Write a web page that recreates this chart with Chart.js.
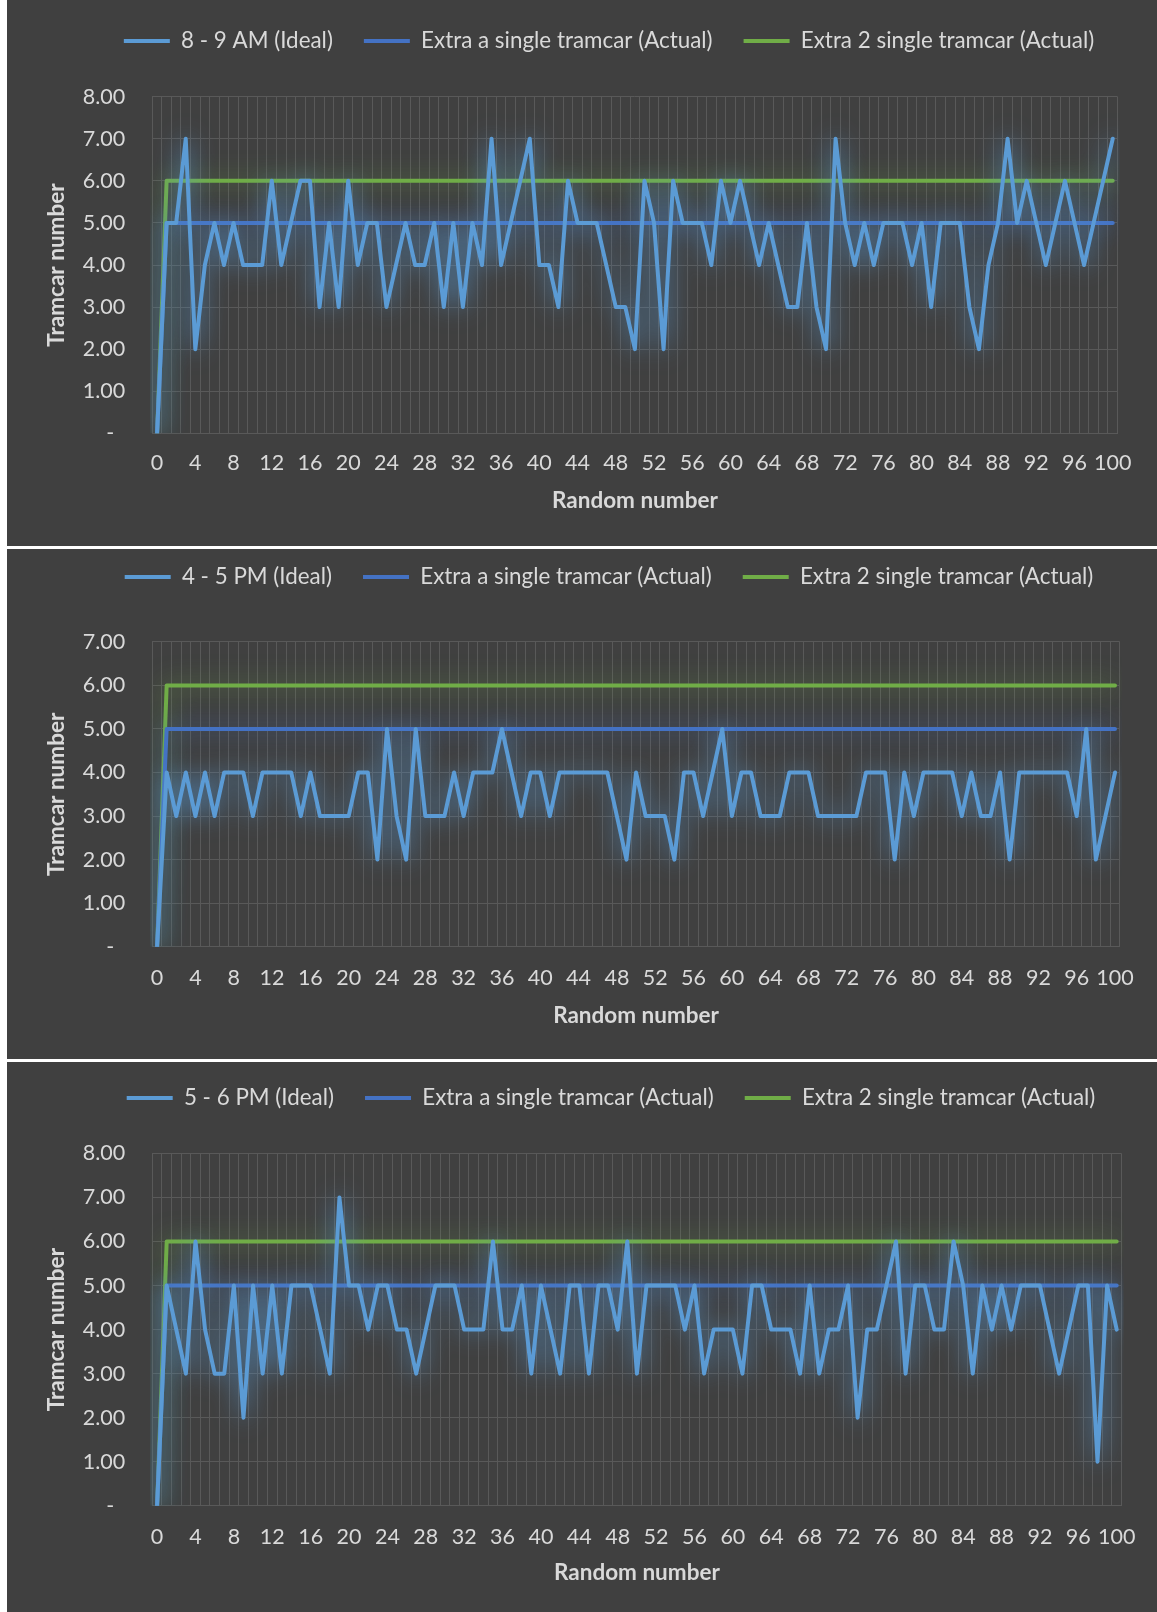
<!DOCTYPE html>
<html><head><meta charset="utf-8">
<script src="https://cdn.jsdelivr.net/npm/chart.js@4"></script>
<style>
html,body{margin:0;padding:0;background:#ffffff}
body{width:1157px;height:1612px;position:relative;overflow:hidden}
.panel{position:absolute;left:7px;width:1150px;background:#404040}
canvas{display:block}
</style></head><body>
<div class="panel" style="top:0px;height:546px"><canvas id="c1" width="1150" height="546"></canvas></div>
<div class="panel" style="top:549px;height:510px"><canvas id="c2" width="1150" height="510"></canvas></div>
<div class="panel" style="top:1062px;height:550px"><canvas id="c3" width="1150" height="550"></canvas></div>
<script>
// ---- categories (random number) ----
const randomNumbers = [0,1,2,3,4,5,6,7,8,9,10,11,12,13,14,15,16,17,18,19,20,21,22,23,24,25,26,27,28,29,30,31,32,33,34,35,36,37,38,39,40,41,42,43,44,45,46,47,48,49,50,51,52,53,54,55,56,57,58,59,60,61,62,63,64,65,66,67,68,69,70,71,72,73,74,75,76,77,78,79,80,81,82,83,84,85,86,87,88,89,90,91,92,93,94,95,96,97,98,99,100];
const xTickLabels = ['0','4','8','12','16','20','24','28','32','36','40','44','48','52','56','60','64','68','72','76','80','84','88','92','96','100'];
const yTickLabels8 = ['-','1.00','2.00','3.00','4.00','5.00','6.00','7.00','8.00'];
const yTickLabels7 = ['-','1.00','2.00','3.00','4.00','5.00','6.00','7.00'];

// ---- series names ----
const idealLabelAM = '8 - 9 AM (Ideal)';
const idealLabelPM4 = '4 - 5 PM (Ideal)';
const idealLabelPM5 = '5 - 6 PM (Ideal)';
const singleLabel = 'Extra a single tramcar (Actual)';
const doubleLabel = 'Extra 2 single tramcar (Actual)';

// ---- series values ----
const ideal_8_9AM = [0,5,5,7,2,4,5,4,5,4, 4,4,6,4,5,6,6,3,5,3, 6,4,5,5,3,4,5,4,4,5, 3,5,3,5,4,7,4,5,6,7, 4,4,3,6,5,5,5,4,3,3, 2,6,5,2,6,5,5,5,4,6, 5,6,5,4,5,4,3,3,5,3, 2,7,5,4,5,4,5,5,5,4, 5,3,5,5,5,3,2,4,5,7, 5,6,5,4,5,6,5,4,5,6,7];
const ideal_4_5PM = [0,4,3,4,3,4,3,4,4,4, 3,4,4,4,4,3,4,3,3,3, 3,4,4,2,5,3,2,5,3,3, 3,4,3,4,4,4,5,4,3,4, 4,3,4,4,4,4,4,4,3,2, 4,3,3,3,2,4,4,3,4,5, 3,4,4,3,3,3,4,4,4,3, 3,3,3,3,4,4,4,2,4,3, 4,4,4,4,3,4,3,3,4,2, 4,4,4,4,4,4,3,5,2,3,4];
const ideal_5_6PM = [0,5,4,3,6,4,3,3,5,2, 5,3,5,3,5,5,5,4,3,7, 5,5,4,5,5,4,4,3,4,5, 5,5,4,4,4,6,4,4,5,3, 5,4,3,5,5,3,5,5,4,6, 3,5,5,5,5,4,5,3,4,4, 4,3,5,5,4,4,4,3,5,3, 4,4,5,2,4,4,5,6,3,5, 5,4,4,6,5,3,5,4,5,4, 5,5,5,4,3,4,5,5,1,5,4];
const singleActual = [0,5,5,5,5,5,5,5,5,5, 5,5,5,5,5,5,5,5,5,5, 5,5,5,5,5,5,5,5,5,5, 5,5,5,5,5,5,5,5,5,5, 5,5,5,5,5,5,5,5,5,5, 5,5,5,5,5,5,5,5,5,5, 5,5,5,5,5,5,5,5,5,5, 5,5,5,5,5,5,5,5,5,5, 5,5,5,5,5,5,5,5,5,5, 5,5,5,5,5,5,5,5,5,5,5];
const doubleActual = [0,6,6,6,6,6,6,6,6,6, 6,6,6,6,6,6,6,6,6,6, 6,6,6,6,6,6,6,6,6,6, 6,6,6,6,6,6,6,6,6,6, 6,6,6,6,6,6,6,6,6,6, 6,6,6,6,6,6,6,6,6,6, 6,6,6,6,6,6,6,6,6,6, 6,6,6,6,6,6,6,6,6,6, 6,6,6,6,6,6,6,6,6,6, 6,6,6,6,6,6,6,6,6,6,6];

const FONT = 'Lato, "Open Sans", "Liberation Sans", sans-serif';
const TXT = '#d9d9d9';
const GRID = '#595959';
const LEGEND_FS = 22.4, TICK_FS = 21.5, TITLE_FS = 22.5;
Chart.defaults.font.family = FONT;
Chart.defaults.color = TXT;

const glowPlugin = {
  id: 'glow',
  beforeDatasetDraw(chart, args, opts) {
    const ctx = chart.ctx;
    ctx.save();
    ctx.shadowColor = opts.colors[args.index];
    ctx.shadowBlur = opts.blur;
  },
  afterDatasetDraw(chart) { chart.ctx.restore(); }
};

function makeChart(id, ideal, idealLabel, yTicks, g) {
  const yMax = yTicks.length - 1;
  return new Chart(document.getElementById(id), {
    type: 'line',
    plugins: [glowPlugin],
    data: {
      labels: randomNumbers,
      datasets: [
        {label: idealLabel, data: ideal, borderColor: '#5B9BD5', backgroundColor: '#5B9BD5'},
        {label: singleLabel, data: singleActual, borderColor: '#4472C4', backgroundColor: '#4472C4'},
        {label: doubleLabel, data: doubleActual, borderColor: '#70AD47', backgroundColor: '#70AD47'}
      ]
    },
    options: {
      responsive: false, animation: false, devicePixelRatio: 1,
      datasets: {line: {borderWidth: 4, pointRadius: 0, pointHoverRadius: 0, tension: 0, borderJoinStyle: 'round', borderCapStyle: 'round', fill: false}},
      layout: {padding: {top: g.padTop, left: 0, right: g.padRight, bottom: 0}},
      plugins: {
        legend: {
          position: 'top', weight: 3000,
          labels: {
            boxWidth: 46, boxHeight: 4, padding: 31, color: TXT, font: {size: LEGEND_FS},
            generateLabels(chart) {
              return Chart.defaults.plugins.legend.labels.generateLabels(chart).map(l => Object.assign(l, {lineWidth: 0}));
            }
          }
        },
        title: {display: true, text: ' ', weight: 2000, font: {size: 1, lineHeight: 1}, padding: {top: 0, bottom: g.spacer - 1}},
        tooltip: {enabled: false},
        glow: {blur: 24, colors: ['rgba(91,155,213,0.95)', 'rgba(68,114,196,0.8)', 'rgba(112,173,71,0.75)']}
      },
      scales: {
        x: {
          type: 'category', offset: true,
          grid: {offset: true, color: GRID, lineWidth: 1, drawTicks: false},
          border: {color: GRID},
          ticks: {
            autoSkip: false, maxRotation: 0, minRotation: 0, color: TXT, font: {size: TICK_FS}, padding: g.xTickPad,
            callback(val) { const l = String(this.getLabelForValue(val)); return xTickLabels.includes(l) ? l : ''; }
          },
          title: {display: true, text: 'Random number', color: TXT, font: {size: TITLE_FS, weight: 'bold'}, padding: {top: 0, bottom: g.xTitlePad}},
          afterFit(s) { s.height = g.xHeight; }
        },
        y: {
          min: 0, max: yMax,
          grid: {color: GRID, lineWidth: 1, drawTicks: false},
          border: {display: false},
          ticks: {
            stepSize: 1, color: TXT, font: {size: TICK_FS}, padding: 27,
            callback(v) { const l = yTicks[Math.round(v)]; return l === '-' ? '-  ' : l; }
          },
          title: {display: true, text: 'Tramcar number', color: TXT, font: {size: TITLE_FS, weight: 'bold'}, padding: {top: 36.5, bottom: 0}},
          afterFit(s) { s.width = 145.3; }
        },
        yRightSpace: {
          type: 'linear', position: 'right', display: true,
          grid: {display: false, drawTicks: false},
          border: {display: false},
          ticks: {display: false},
          afterFit(s) { s.width = g.rightW; }
        }
      }
    }
  });
}

makeChart('c1', ideal_8_9AM, idealLabelAM, yTickLabels8,
  {padTop: -1.1, padRight: -54, rightW: 93.5, spacer: 34.4, xHeight: 112.7, xTickPad: 16.8, xTitlePad: 31.5});
makeChart('c2', ideal_4_5PM, idealLabelPM4, yTickLabels7,
  {padTop: -14.2, padRight: -54, rightW: 91.2, spacer: 43.7, xHeight: 112.3, xTickPad: 18.4, xTitlePad: 29.5});
makeChart('c3', ideal_5_6PM, idealLabelPM5, yTickLabels8,
  {padTop: -6.2, padRight: -58, rightW: 93.5, spacer: 34.3, xHeight: 106.3, xTickPad: 18.4, xTitlePad: 25.5});
</script>
</body></html>
